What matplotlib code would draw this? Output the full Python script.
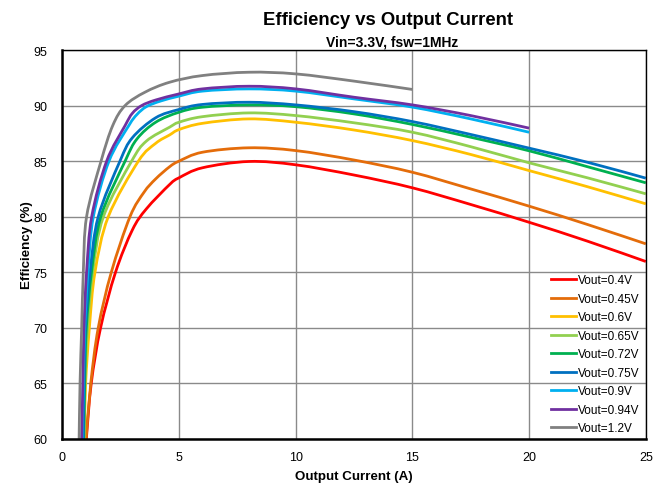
import matplotlib
matplotlib.use('Agg')
import matplotlib.pyplot as plt
from matplotlib.path import Path
from matplotlib.patches import PathPatch
from matplotlib.lines import Line2D

plt.rcParams['font.family'] = ['Liberation Sans', 'DejaVu Sans']

# efficiency curves, (current A, efficiency %) per output voltage
i_04 = [1.03, 1.24, 1.64, 2.28, 3.0, 3.6, 4.6, 5.0, 6.0, 8.0, 10.0, 12.5, 15.0, 17.5, 20.0, 22.5, 25.0]
e_04 = [60.0, 65.0, 70.0, 75.0, 78.8, 80.7, 82.9, 83.5, 84.4, 84.97, 84.67, 83.75, 82.6, 81.1, 79.5, 77.8, 75.97]

i_045 = [1.02, 1.22, 1.54, 2.1, 2.9, 3.5, 4.0, 4.6, 5.0, 6.0, 8.0, 10.0, 12.5, 15.0, 17.5, 20.0, 22.5, 25.0]
e_045 = [60.0, 65.0, 70.0, 75.0, 80.0, 82.2, 83.4, 84.5, 85.0, 85.8, 86.2, 85.95, 85.1, 84.0, 82.5, 80.95, 79.3, 77.56]

i_06 = [0.94, 1.0, 1.16, 1.4, 1.97, 3.26, 4.0, 4.6, 5.0, 6.0, 8.0, 10.0, 12.5, 15.0, 17.5, 20.0, 22.5, 25.0]
e_06 = [60.0, 65.0, 70.0, 75.0, 80.0, 85.0, 86.6, 87.36, 87.84, 88.4, 88.8, 88.5, 87.8, 86.85, 85.6, 84.15, 82.7, 81.16]

i_065 = [0.93, 0.97, 1.08, 1.3, 1.76, 2.97, 3.6, 4.6, 5.0, 6.0, 8.0, 10.0, 12.5, 15.0, 17.5, 20.0, 22.5, 25.0]
e_065 = [60.0, 65.0, 70.0, 75.0, 80.0, 85.0, 86.8, 88.06, 88.5, 89.0, 89.34, 89.1, 88.45, 87.6, 86.3, 84.85, 83.5, 82.06]

i_072 = [0.92, 0.96, 1.03, 1.25, 1.65, 2.69, 3.2, 4.0, 5.0, 6.0, 8.0, 10.0, 12.5, 15.0, 17.5, 20.0, 22.5, 25.0]
e_072 = [60.0, 65.0, 70.0, 75.0, 80.0, 85.0, 87.0, 88.5, 89.4, 89.85, 90.06, 89.9, 89.25, 88.3, 87.15, 85.93, 84.5, 83.05]

i_075 = [0.9, 0.93, 0.99, 1.19, 1.54, 2.47, 3.0, 4.0, 5.0, 6.0, 8.0, 10.0, 12.5, 15.0, 17.5, 20.0, 22.5, 25.0]
e_075 = [60.0, 65.0, 70.0, 75.0, 80.0, 85.0, 87.1, 88.9, 89.65, 90.1, 90.3, 90.06, 89.45, 88.56, 87.4, 86.17, 84.9, 83.47]

i_09 = [0.85, 0.9, 0.96, 1.1, 1.33, 2.0, 2.85, 3.2, 3.6, 4.2, 5.0, 6.0, 8.0, 10.0, 12.5, 15.0, 17.5, 20.0]
e_09 = [60.0, 65.0, 70.0, 75.0, 80.0, 85.0, 88.2, 89.2, 89.9, 90.4, 90.85, 91.3, 91.5, 91.3, 90.6, 89.86, 88.8, 87.6]

i_094 = [0.83, 0.88, 0.93, 1.04, 1.26, 1.9, 2.69, 3.0, 3.4, 4.0, 5.0, 6.0, 8.0, 10.0, 12.5, 15.0, 17.5, 20.0]
e_094 = [60.0, 65.0, 70.0, 75.0, 80.0, 85.0, 88.2, 89.3, 90.0, 90.5, 91.05, 91.5, 91.74, 91.5, 90.75, 90.06, 89.1, 87.97]

i_12 = [0.72, 0.76, 0.83, 0.9, 1.04, 1.66, 2.16, 2.69, 3.54, 4.6, 6.0, 8.0, 10.0, 12.5, 15.0]
e_12 = [60.0, 65.0, 70.0, 75.0, 80.0, 85.0, 88.2, 90.0, 91.2, 92.1, 92.7, 93.0, 92.85, 92.2, 91.45]

labels = ['Vout=0.4V', 'Vout=0.45V', 'Vout=0.6V', 'Vout=0.65V', 'Vout=0.72V',
          'Vout=0.75V', 'Vout=0.9V', 'Vout=0.94V', 'Vout=1.2V']
colors = ['#FF0000', '#E46C0A', '#FFC000', '#92D050', '#00B050',
          '#0070C0', '#00B0F0', '#7030A0', '#808080']
curves = [(i_04, e_04), (i_045, e_045), (i_06, e_06), (i_065, e_065), (i_072, e_072),
          (i_075, e_075), (i_09, e_09), (i_094, e_094), (i_12, e_12)]


def smooth_path(x, y):
    # smoothed line through the points, cubic Bezier per segment (Catmull-Rom tangents)
    pts = list(zip(x, y))
    n = len(pts)
    verts = [pts[0]]
    codes = [Path.MOVETO]
    for k in range(n - 1):
        p0 = pts[max(k - 1, 0)]
        p1 = pts[k]
        p2 = pts[k + 1]
        p3 = pts[min(k + 2, n - 1)]
        c1 = (p1[0] + (p2[0] - p0[0]) / 6, p1[1] + (p2[1] - p0[1]) / 6)
        c2 = (p2[0] - (p3[0] - p1[0]) / 6, p2[1] - (p3[1] - p1[1]) / 6)
        verts += [c1, c2, p2]
        codes += [Path.CURVE4] * 3
    return Path(verts, codes)


fig = plt.figure(figsize=(6.64, 4.85), dpi=100)
ax = fig.add_axes([62.3 / 664, 45 / 485, (645.8 - 62.3) / 664, (440 - 51) / 485])

handles = []
for (x, y), c, lab in zip(curves, colors, labels):
    ax.add_patch(PathPatch(smooth_path(x, y), facecolor='none', edgecolor=c,
                           lw=2.0, capstyle='butt', joinstyle='round'))
    handles.append(Line2D([], [], color=c, lw=2.0, label=lab))

ax.set_xlim(0, 25)
ax.set_ylim(60, 95)
ax.set_xticks(range(0, 26, 5))
ax.set_yticks(range(60, 96, 5))
ax.grid(True, color='#8a8a8a', lw=1.0)
ax.set_axisbelow(True)
ax.tick_params(length=0, labelsize=9)
ax.tick_params(axis='y', pad=11)
ax.tick_params(axis='x', pad=9)
for side in ['left', 'bottom']:
    ax.spines[side].set_linewidth(1.8)
for side in ['top', 'right']:
    ax.spines[side].set_linewidth(1.0)

ax.set_xlabel('Output Current (A)', fontsize=9.6, fontweight='bold', labelpad=5)
ax.set_ylabel('Efficiency (%)', fontsize=9.6, fontweight='bold', labelpad=0)

fig.text(0.584, 0.958, 'Efficiency vs Output Current', ha='center', va='center',
         fontsize=13.3, fontweight='bold')
fig.text(0.59, 0.912, 'Vin=3.3V, fsw=1MHz', ha='center', va='center',
         fontsize=10, fontweight='bold')

ax.legend(handles=handles, loc='lower right', frameon=False, fontsize=8.5,
          handlelength=2.1, handletextpad=0.15, labelspacing=0.55,
          borderaxespad=0.0, bbox_to_anchor=(0.997, 0.0))

fig.savefig('out.png', dpi=100)
